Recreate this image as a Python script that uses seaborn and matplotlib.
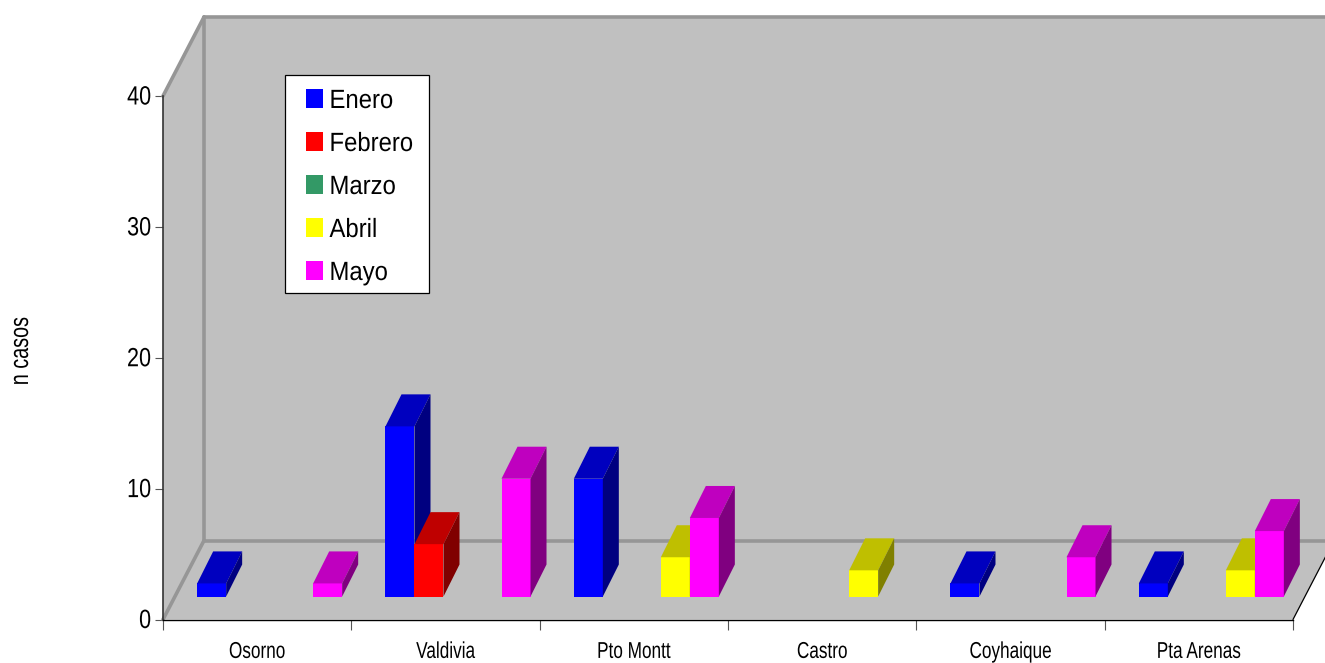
"""Casos por ciudad y mes: columnas con falso 3D al estilo Excel."""

import matplotlib.patheffects as pe
import matplotlib.pyplot as plt
import pandas as pd
import seaborn as sns
from matplotlib.patches import Polygon, Rectangle
from matplotlib.transforms import Affine2D, IdentityTransform

CIUDADES = ["Osorno", "Valdivia", "Pto Montt", "Castro", "Coyhaique", "Pta Arenas"]
MESES = ["Enero", "Febrero", "Marzo", "Abril", "Mayo"]
ENERO = [1, 13, 9, 0, 1, 1]
FEBRERO = [0, 4, 0, 0, 0, 0]
MARZO = [0, 0, 0, 0, 0, 0]
ABRIL = [0, 0, 3, 2, 0, 2]
MAYO = [1, 9, 6, 0, 3, 5]
COLORES = ["#0000FF", "#FF0000", "#339966", "#FFFF00", "#FF00FF"]
Y_TICKS = [0, 10, 20, 30, 40]

# profundidad en pixeles
WALL_DX, WALL_DY = 41, 79
BAR_DX, BAR_DY = 16, 32
BAR_SHIFT = (12.5, 23)
GRIS = "#969696"

sns.set_style("white", {"text.color": "black", "xtick.color": "black", "ytick.color": "black"})
plt.rcParams["font.family"] = ["Liberation Sans", "DejaVu Sans"]


class Squeeze(pe.AbstractPathEffect):
    """Comprime el texto alrededor de un punto (no hay fuente condensada instalada)."""

    def __init__(self, cx, cy, sx=1.0, sy=1.0, dy=0.0):
        super().__init__()
        self.cx, self.cy, self.sx, self.sy, self.dy = cx, cy, sx, sy, dy

    def draw_path(self, renderer, gc, tpath, affine, rgbFace=None):
        extra = (
            Affine2D()
            .translate(-self.cx, -self.cy)
            .scale(self.sx, self.sy)
            .translate(self.cx, self.cy + self.dy)
        )
        renderer.draw_path(gc, tpath, affine + extra, rgbFace)


df = pd.DataFrame(
    {
        "ciudad": CIUDADES * len(MESES),
        "mes": [m for m in MESES for _ in CIUDADES],
        "casos": ENERO + FEBRERO + MARZO + ABRIL + MAYO,
    }
)

W, H = 1325, 663
fig = plt.figure(figsize=(W / 100, H / 100), dpi=100)
ax = fig.add_axes([163 / W, 1 - 619.5 / H, 1130 / W, 523.5 / H])

sns.barplot(
    data=df, x="ciudad", y="casos", hue="mes", hue_order=MESES, order=CIUDADES,
    palette=COLORES, width=0.77, gap=0, saturation=1, linewidth=0, ax=ax,
)
ax.set_xlim(-0.5, len(CIUDADES) - 0.5)
ax.set_ylim(0, 40)
ax.patch.set_visible(False)
sns.despine(ax=ax)
ax.set_xlabel("")
ax.set_ylabel("")


def shade(color, factor):
    rgb = plt.matplotlib.colors.to_rgb(color)
    return tuple(c * factor for c in rgb)


def add_poly(points, zorder, **kw):
    ax.add_patch(
        Polygon(points, closed=True, transform=IdentityTransform(), clip_on=False,
                zorder=zorder, **kw)
    )


# paredes y piso, a partir de las esquinas del eje
(x0, y0) = ax.transData.transform((-0.5, 0))
(x1, y1) = ax.transData.transform((len(CIUDADES) - 0.5, 40))
dx, dy = WALL_DX, WALL_DY
add_poly([(x0, y0), (x0, y1), (x0 + dx, y1 + dy), (x1 + dx, y1 + dy), (x1 + dx, y0 + dy), (x1, y0)],
         0.5, facecolor="#C0C0C0", edgecolor="none")
for a, b in [
    ((x0, y1), (x0 + dx, y1 + dy)),
    ((x0 + dx, y1 + dy), (x1 + dx, y1 + dy)),
    ((x0 + dx, y1 + dy), (x0 + dx, y0 + dy)),
    ((x0 + dx, y0 + dy), (x1 + dx, y0 + dy)),
    ((x0 + dx, y0 + dy), (x0, y0)),
]:
    ax.plot(*zip(a, b), color=GRIS, lw=2.6, transform=IdentityTransform(),
            clip_on=False, zorder=0.8, solid_capstyle="round")
ax.plot([x1, x1 + dx], [y0, y0 + dy], color="black", lw=0.9,
        transform=IdentityTransform(), clip_on=False, zorder=0.9)

# cara superior y lateral de cada barra
shift = Affine2D().translate(*BAR_SHIFT)
for i, container in enumerate(ax.containers):
    for bar in container:
        z = 3 + i
        if bar.get_height() <= 0:
            bar.set_visible(False)
            continue
        bar.set_transform(ax.transData + shift)
        bar.set_clip_on(False)
        bar.set_zorder(z)
        bx, by = bar.get_x(), bar.get_height()
        (xl, yt) = (ax.transData + shift).transform((bx, by))
        (xr, yb) = (ax.transData + shift).transform((bx + bar.get_width(), 0))
        color = COLORES[i]
        add_poly([(xl, yt), (xl + BAR_DX, yt + BAR_DY), (xr + BAR_DX, yt + BAR_DY), (xr, yt)],
                 z, facecolor=shade(color, 0.75), edgecolor="none")
        add_poly([(xr, yt), (xr + BAR_DX, yt + BAR_DY), (xr + BAR_DX, yb + BAR_DY), (xr, yb)],
                 z, facecolor=shade(color, 0.5), edgecolor="none")

# ejes
ax.set_yticks(Y_TICKS)
ax.set_yticklabels([str(v) for v in Y_TICKS], fontsize=19)
ax.tick_params(axis="y", length=5.8, width=0.8, color="#555555", pad=2.8, left=True)
ax.set_xticks([i - 0.5 for i in range(len(CIUDADES) + 1)])
ax.set_xticklabels([])
ax.set_xticks(range(len(CIUDADES)), labels=CIUDADES, minor=True, fontsize=16.5)
ax.tick_params(axis="x", which="major", length=7.5, width=0.8, color="#555555", bottom=True)
ax.tick_params(axis="x", which="minor", length=0, pad=14.7)
ax.spines["left"].set_color("#333333")
ax.spines["left"].set_linewidth(1.2)
ax.spines["bottom"].set_color("black")
ax.spines["bottom"].set_linewidth(1.0)
for spine in ax.spines.values():
    spine.set_zorder(1)

ylabel = fig.text(21 / W, 1 - 351 / H, "n casos", rotation=90, ha="center", va="center",
                  fontsize=19)

# leyenda: marco propio, el ancho natural no coincide con el texto comprimido
sns.move_legend(
    ax, "upper left", bbox_to_anchor=(306 / W, 1 - 89 / H), bbox_transform=fig.transFigure,
    title=None, frameon=False, fontsize=19, handlelength=0.64, handleheight=0.72,
    handletextpad=0.25, borderpad=0, labelspacing=0.72, borderaxespad=0,
)
legend = ax.get_legend()
legend.set_zorder(20)
fig.add_artist(
    Rectangle((285 / W, 1 - 293 / H), 144 / W, 218 / H, transform=fig.transFigure,
              facecolor="white", edgecolor="black", linewidth=0.9, zorder=10)
)
legend.remove()
fig.add_artist(legend)
legend.set_zorder(20)

# texto angosto como en el original
fig.canvas.draw()
for label in ax.get_yticklabels():
    bb = label.get_window_extent()
    label.set_path_effects([Squeeze(bb.x1, bb.y0, sx=0.82, dy=1.0)])
for label in ax.get_xticklabels(minor=True):
    bb = label.get_window_extent()
    label.set_path_effects([Squeeze((bb.x0 + bb.x1) / 2, bb.y0, sx=0.75)])
bb = ylabel.get_window_extent()
ylabel.set_path_effects([Squeeze(bb.x0, (bb.y0 + bb.y1) / 2, sy=0.75)])
for label in legend.get_texts():
    bb = label.get_window_extent()
    label.set_path_effects([Squeeze(bb.x0, bb.y0, sx=0.905)])

fig.savefig("out.png", dpi=100)
